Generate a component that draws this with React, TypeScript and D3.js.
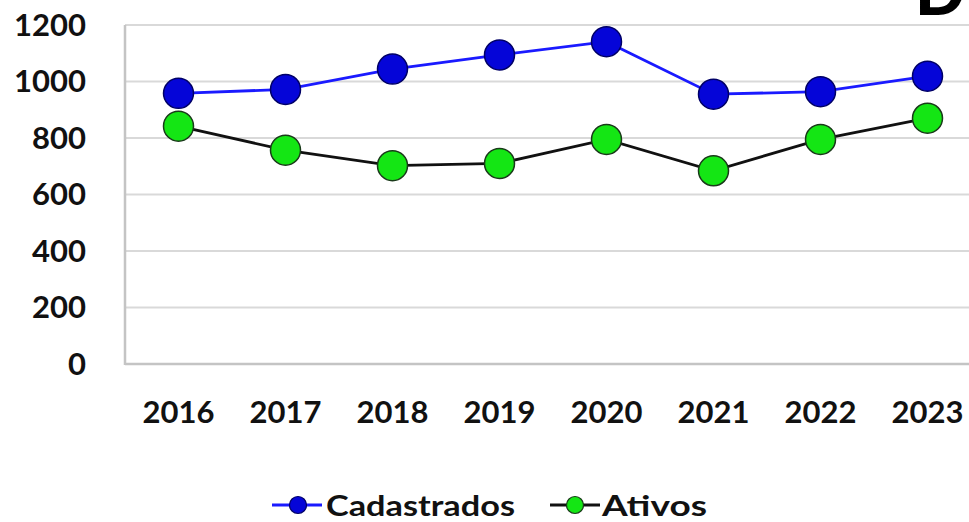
import React from "react";
import * as d3 from "d3";

const years = ["2016", "2017", "2018", "2019", "2020", "2021", "2022", "2023"];
const cadastrados = [958, 972, 1044, 1094, 1141, 955, 964, 1019];
const ativos = [842, 757, 702, 710, 795, 684, 795, 870];
const yTicks = [0, 200, 400, 600, 800, 1000, 1200];
const seriesNames = ["Cadastrados", "Ativos"];

const W = 969;
const H = 522;
const FONT = "Lato, 'Open Sans', sans-serif";

export default function App() {
  const x = d3.scaleBand<string>().domain(years).range([125, 981]);
  const y = d3.scaleLinear().domain([0, 1200]).range([364, 25]);
  const cx = (d: string) => (x(d) as number) + x.bandwidth() / 2;

  const line = d3
    .line<number>()
    .x((_, i) => cx(years[i]))
    .y((v) => y(v));

  const series = [
    { name: seriesNames[0], values: cadastrados, stroke: "#1a1aff", fill: "#0505d8", outline: "#000066" },
    { name: seriesNames[1], values: ativos, stroke: "#111111", fill: "#14e614", outline: "#1a3a1a" },
  ];

  const legend = [
    { lx1: 272, lx2: 322, cxl: 298, tx: 326, tw: 189 },
    { lx1: 550, lx2: 600, cxl: 575, tx: 602, tw: 105 },
  ];

  return (
    <svg
      width={W}
      height={H}
      style={{ position: "absolute", left: 0, top: 0, background: "#fff" }}
      fontFamily={FONT}
    >
      {/* gridlines */}
      {yTicks.map((t) => (
        <line
          key={"g" + t}
          x1={125}
          x2={W}
          y1={y(t)}
          y2={y(t)}
          stroke={t === 0 ? "#c4c4c4" : "#d9d9d9"}
          strokeWidth={t === 0 ? 2.5 : 2}
        />
      ))}
      <line x1={125} x2={125} y1={y(1200)} y2={y(0) + 1} stroke="#c4c4c4" strokeWidth={2.5} />

      {/* y tick labels */}
      {yTicks.map((t) => (
        <text
          key={"yt" + t}
          x={86}
          y={y(t)}
          dy="0.35em"
          textAnchor="end"
          fontSize={31}
          fontWeight={700}
          fill="#111"
        >
          {t}
        </text>
      ))}

      {/* x tick labels */}
      {years.map((yr) => (
        <text
          key={"xt" + yr}
          x={cx(yr)}
          y={423}
          textAnchor="middle"
          fontSize={31}
          fontWeight={700}
          fill="#111"
        >
          {yr}
        </text>
      ))}

      {/* series */}
      {series.map((s) => (
        <g key={s.name}>
          <path d={line(s.values) as string} fill="none" stroke={s.stroke} strokeWidth={2.8} />
          {s.values.map((v, i) => (
            <circle
              key={i}
              cx={cx(years[i])}
              cy={y(v)}
              r={15}
              fill={s.fill}
              stroke={s.outline}
              strokeWidth={1.5}
            />
          ))}
        </g>
      ))}

      {/* legend */}
      {series.map((s, i) => {
        const L = legend[i];
        return (
          <g key={"lg" + s.name}>
            <line x1={L.lx1} x2={L.lx2} y1={505} y2={505} stroke={s.stroke} strokeWidth={2.8} />
            <circle cx={L.cxl} cy={505} r={8.5} fill={s.fill} stroke={s.outline} strokeWidth={1.2} />
            <text
              x={L.tx}
              y={516}
              fontSize={29}
              fontWeight={700}
              fill="#111"
              textLength={L.tw}
              lengthAdjust="spacingAndGlyphs"
            >
              {s.name}
            </text>
          </g>
        );
      })}

      {/* panel letter */}
      <text x={915} y={15} fontSize={66} fontWeight={900} fill="#000" fontFamily="Lato, sans-serif">
        D
      </text>
    </svg>
  );
}
